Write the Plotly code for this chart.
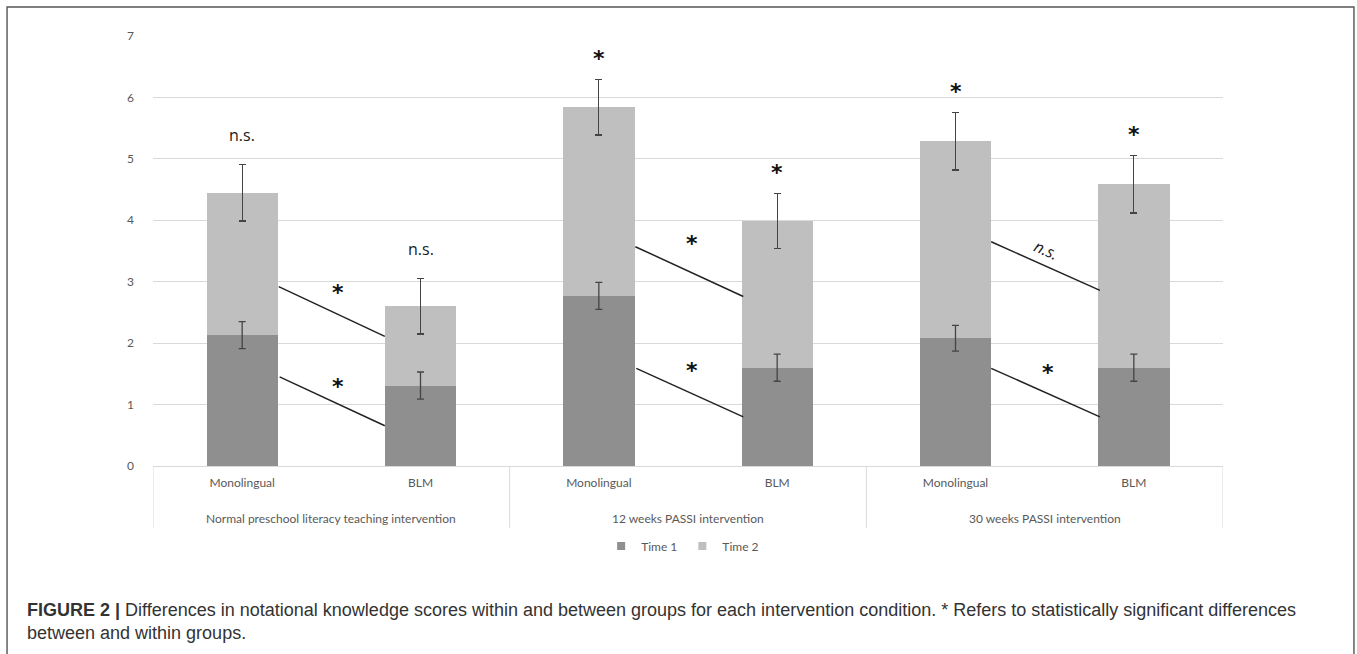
import plotly.graph_objects as go

# ---- data ----
groups = ["Normal preschool literacy teaching intervention",
          "12 weeks PASSI intervention",
          "30 weeks PASSI intervention"]
subcats = ["Monolingual", "BLM", "Monolingual", "BLM", "Monolingual", "BLM"]
time1 = [2.13, 1.31, 2.77, 1.60, 2.08, 1.60]
time2 = [2.32, 1.29, 3.07, 2.39, 3.21, 2.99]
time1_err = [0.22, 0.22, 0.22, 0.22, 0.21, 0.22]
total_err = [0.46, 0.45, 0.45, 0.45, 0.47, 0.47]
top_marks = ["n.s.", "n.s.", "*", "*", "*", "*"]
between_labels = ["*", "*", "*", "*", "n.s.", "*"]   # g1 upper, g1 lower, g2 upper, ...

# ---- annotation geometry (decoration, data units) ----
# slanted comparison lines: (x0, y0, x1, y1)
between_lines = [(0.205, 2.92, 0.80, 2.11), (0.21, 1.45, 0.80, 0.655),
                 (2.205, 3.57, 2.81, 2.76), (2.21, 1.59, 2.81, 0.80),
                 (4.20, 3.65, 4.81, 2.86), (4.20, 1.59, 4.81, 0.80)]
between_label_pos = [(0.54, 2.88), (0.54, 1.35), (2.52, 3.67), (2.52, 1.61),
                     (4.51, 3.51), (4.52, 1.57)]

xpos = list(range(len(subcats)))
FONT = "Lato, Liberation Sans, Arial, sans-serif"
STAR_FONT = dict(size=22, color="#111111", family="DejaVu Sans")
NS_FONT = dict(size=16, color="#1a1a1a", family="Open Sans")
STAR_SHIFT = 0.05   # glyph sits high in its box

fig = go.Figure()
fig.add_trace(go.Bar(x=xpos, y=time1, name="Time 1", marker_color="#8f8f8f",
                     marker_line_width=0, showlegend=False))
fig.add_trace(go.Bar(x=xpos, y=time2, name="Time 2", marker_color="#bfbfbf",
                     marker_line_width=0, showlegend=False,
                     error_y=dict(type="data", array=total_err, color="#444444",
                                  thickness=1.3, width=3.5)))
# Time 1 error bars drawn on top of the stacked bars
fig.add_trace(go.Scatter(x=xpos, y=time1, mode="markers", marker=dict(opacity=0, size=1),
                         showlegend=False, hoverinfo="skip",
                         error_y=dict(type="data", array=time1_err, color="#444444",
                                      thickness=1.3, width=3.5)))
# legend entries
for nm, col in [("Time 1", "#8f8f8f"), ("Time 2", "#bfbfbf")]:
    fig.add_trace(go.Scatter(x=[None], y=[None], mode="markers", name=nm,
                             marker=dict(symbol="square", size=8, color=col)))

shapes = []
annotations = []

# top-of-bar significance marks
for i, m in enumerate(top_marks):
    top = time1[i] + time2[i] + total_err[i]
    if m == "*":
        annotations.append(dict(x=xpos[i], y=top + 0.39 - STAR_SHIFT, text="<b>*</b>",
                                showarrow=False, font=STAR_FONT, yanchor="middle"))
    else:
        annotations.append(dict(x=xpos[i], y=top + 0.48, text="n.s.", showarrow=False,
                                font=NS_FONT, yanchor="middle"))

# slanted comparison lines between monolingual and BLM
for (x0, y0, x1, y1), lab, (lx, ly) in zip(between_lines, between_labels, between_label_pos):
    shapes.append(dict(type="line", xref="x", yref="y", x0=x0, y0=y0, x1=x1, y1=y1,
                       line=dict(color="#222222", width=1.5)))
    if lab == "*":
        annotations.append(dict(x=lx, y=ly - STAR_SHIFT, text="<b>*</b>", showarrow=False,
                                font=STAR_FONT, yanchor="middle"))
    else:
        annotations.append(dict(x=lx, y=ly, text="<i>n.s.</i>", showarrow=False,
                                textangle=24, font=NS_FONT, yanchor="middle"))

# group labels and dividers under axis
for g, name in enumerate(groups):
    annotations.append(dict(x=2 * g + 0.5, y=-0.121, xref="x", yref="paper", text=name,
                            showarrow=False, yanchor="middle",
                            font=dict(size=12, color="#595959", family=FONT)))
for d in [-0.5, 1.5, 3.5, 5.5]:
    shapes.append(dict(type="line", xref="x", yref="paper", x0=d, x1=d, y0=0, y1=-0.144,
                       line=dict(color="#d9d9d9", width=1)))

# outer frame
shapes.append(dict(type="rect", xref="paper", yref="paper", x0=-0.1364, x1=1.1224,
                   y0=-0.47, y1=1.0674, line=dict(color="#555555", width=1.4)))

# caption
annotations.append(dict(
    xref="paper", yref="paper", x=-0.1196, y=-0.362, xanchor="left", yanchor="middle",
    align="left", showarrow=False,
    text=("<b>FIGURE 2 |</b> Differences in notational knowledge scores within and between groups "
          "for each intervention condition. * Refers to statistically significant differences<br>"
          "between and within groups."),
    font=dict(size=18, color="#333333", family="Liberation Sans")))

fig.update_layout(
    width=1357, height=654,
    margin=dict(l=153, r=134, t=36, b=188),
    barmode="stack", bargap=0.6,
    plot_bgcolor="white", paper_bgcolor="white",
    showlegend=True,
    legend=dict(orientation="h", x=0.495, xanchor="center", y=-0.186, yanchor="middle",
                font=dict(size=12, color="#595959", family=FONT), traceorder="normal",
                itemwidth=30),
    xaxis=dict(range=[-0.5, 5.5], tickvals=xpos, ticktext=subcats, showgrid=False,
               zeroline=False, showline=True, linecolor="#d9d9d9", linewidth=1,
               ticks="", tickfont=dict(size=12, color="#595959", family=FONT),
               ticklabelstandoff=6),
    yaxis=dict(range=[0, 7], dtick=1, showgrid=True, gridcolor="#d9d9d9", gridwidth=1,
               zeroline=False, showline=False, ticks="",
               tickfont=dict(size=12, color="#595959", family=FONT), ticklabelstandoff=18),
    shapes=shapes, annotations=annotations,
)

fig.write_html("out.html", config={"displayModeBar": False},
               post_script="document.body.style.margin='0';")
